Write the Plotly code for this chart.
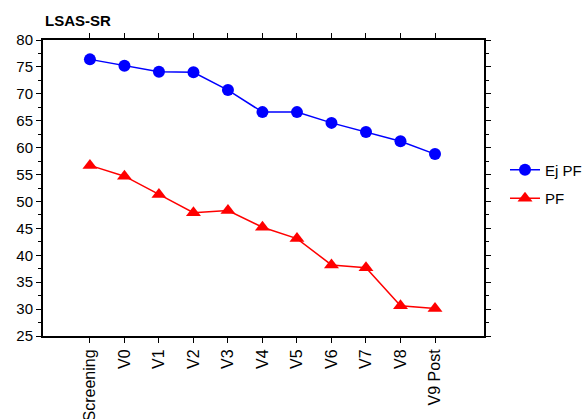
import plotly.graph_objects as go

categories = ["Screening", "V0", "V1", "V2", "V3", "V4", "V5", "V6", "V7", "V8", "V9 Post"]
ej_pf = [76.4, 75.2, 74.1, 74.0, 70.7, 66.6, 66.6, 64.6, 62.9, 61.2, 58.8]
pf = [56.7, 54.7, 51.3, 47.9, 48.3, 45.2, 43.1, 38.2, 37.7, 30.6, 30.1]

W, H = 583, 419
FONT = "Liberation Sans, Arial, sans-serif"
L, R, T, B = 43, 99, 40, 83

fig = go.Figure()
fig.add_trace(go.Scatter(
    x=categories, y=ej_pf, name="Ej PF", mode="lines+markers", legendgroup="a",
    line=dict(color="#0000FF", width=1.5),
    marker=dict(symbol="circle", size=12, color="#0000FF"),
))
fig.add_trace(go.Scatter(
    x=categories, y=pf, name="PF", mode="lines+markers", legendgroup="b",
    line=dict(color="#FF0000", width=1.5),
    marker=dict(symbol="triangle-up", size=13, color="#FF0000"),
))

fig.update_layout(
    width=W, height=H,
    margin=dict(l=L, r=R, t=T, b=B, pad=0, autoexpand=False),
    paper_bgcolor="white", plot_bgcolor="white",
    font=dict(family=FONT, size=15, color="black"),
    title=dict(text="<b>LSAS-SR</b>", x=45 / W, xanchor="left", xref="container",
               y=1 - 21 / H, yanchor="middle", yref="container",
               font=dict(size=15, family=FONT, color="black")),
    showlegend=True,
    legend=dict(x=(505 - L) / (W - L - R), xanchor="left", y=(H - B - 184) / (H - T - B),
                yanchor="middle", font=dict(size=15), bgcolor="rgba(0,0,0,0)",
                tracegroupgap=6, itemwidth=30),
    xaxis=dict(
        type="category", range=[-1.36, 11.42], automargin=False,
        showline=True, linecolor="black", linewidth=2, mirror="allticks",
        ticks="outside", ticklen=5, tickcolor="black", tickwidth=1,
        tickangle=-90, showgrid=False, zeroline=False,
        tickfont=dict(size=16),
    ),
    yaxis=dict(
        range=[25, 80], dtick=5, tick0=25, automargin=False,
        showline=True, linecolor="black", linewidth=2, mirror="allticks",
        ticks="outside", ticklen=5, tickcolor="black", tickwidth=1,
        showgrid=False, zeroline=False,
        tickfont=dict(size=15),
        minor=dict(dtick=2.5, ticks="outside", ticklen=3, tickcolor="black", tickwidth=1, showgrid=False),
    ),
)

fig.write_html("out.html")
